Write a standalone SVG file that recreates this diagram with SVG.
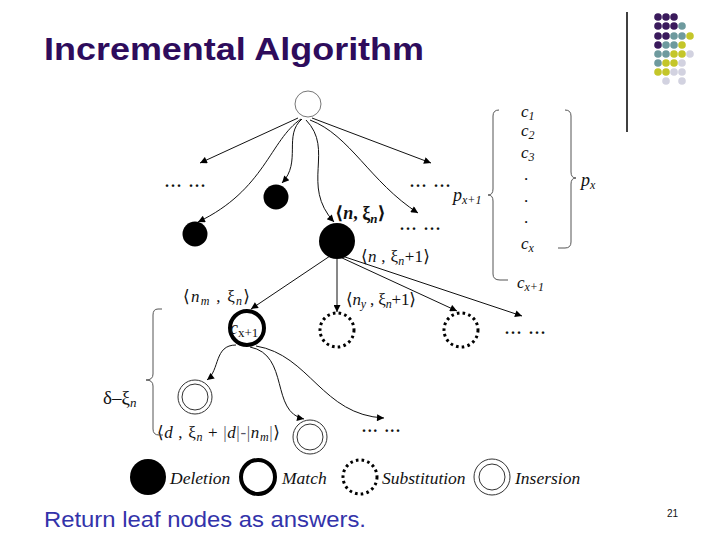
<svg xmlns="http://www.w3.org/2000/svg" width="720" height="540" viewBox="0 0 720 540">
<style>
.m{font-family:"Liberation Serif","DejaVu Serif",serif;fill:#111}
.it{font-style:italic}
.lb{font-size:17px}
.sub{font-size:12px}
.dots{font-family:"Liberation Serif",serif;font-size:16px;font-weight:bold;fill:#111}
.lg{font-family:"Liberation Serif",serif;font-style:italic;font-size:17.5px;fill:#111}
.con{fill:none;stroke:#111;stroke-width:1}
.br{fill:none;stroke:#555;stroke-width:1}
.del{fill:#000}
.mat{fill:#fff;stroke:#000;stroke-width:4}
.sb{fill:#fff;stroke:#000;stroke-width:3;stroke-dasharray:2.6 3.2}
.ins{fill:#fff;stroke:#333;stroke-width:1}
.pu{fill:#3a1a5c}.te{fill:#6e9a9e}.ye{fill:#c4c62a}.lt{fill:#d2d2e0}
</style>
<defs>
<marker id="ah" viewBox="0 0 10 10" refX="10" refY="5" markerWidth="9" markerHeight="7" markerUnits="userSpaceOnUse" orient="auto">
<path d="M0,0 L10,5 L0,10 z" fill="#000"/>
</marker>
</defs>
<rect width="720" height="540" fill="#fff"/>

<g id="title">
<text x="44" y="60" font-family="Liberation Sans, Arial, sans-serif" font-weight="bold" font-size="31" fill="#2e0c5c" textLength="380" lengthAdjust="spacingAndGlyphs">Incremental Algorithm</text>
</g>

<g id="decor">
<line x1="627" y1="12" x2="627" y2="132" stroke="#000" stroke-width="1.5"/>
<circle class="pu" cx="658" cy="17" r="3.8"/><circle class="pu" cx="666" cy="17" r="3.8"/><circle class="pu" cx="674" cy="17" r="3.8"/>
<circle class="pu" cx="658" cy="26" r="3.8"/><circle class="pu" cx="666" cy="26" r="3.8"/><circle class="pu" cx="674" cy="26" r="3.8"/><circle class="te" cx="682" cy="26" r="3.8"/>
<circle class="pu" cx="658" cy="36" r="3.8"/><circle class="pu" cx="666" cy="36" r="3.8"/><circle class="te" cx="674" cy="36" r="3.8"/><circle class="te" cx="682" cy="36" r="3.8"/><circle class="ye" cx="690" cy="36" r="3.8"/>
<circle class="pu" cx="658" cy="45" r="3.8"/><circle class="te" cx="666" cy="45" r="3.8"/><circle class="te" cx="674" cy="45" r="3.8"/><circle class="ye" cx="682" cy="45" r="3.8"/>
<circle class="te" cx="658" cy="54" r="3.8"/><circle class="te" cx="666" cy="54" r="3.8"/><circle class="ye" cx="674" cy="54" r="3.8"/><circle class="ye" cx="682" cy="54" r="3.8"/><circle class="lt" cx="690" cy="54" r="3.8"/>
<circle class="te" cx="658" cy="63" r="3.8"/><circle class="ye" cx="666" cy="63" r="3.8"/><circle class="ye" cx="674" cy="63" r="3.8"/><circle class="lt" cx="682" cy="63" r="3.8"/>
<circle class="ye" cx="658" cy="72" r="3.8"/><circle class="ye" cx="666" cy="72" r="3.8"/><circle class="lt" cx="674" cy="72" r="3.8"/><circle class="lt" cx="682" cy="72" r="3.8"/>
<circle class="lt" cx="666" cy="81" r="3.8"/><circle class="lt" cx="682" cy="81" r="3.8"/>
</g>

<g id="connectors">
<line class="con" x1="298" y1="118" x2="200" y2="163" marker-end="url(#ah)"/>
<path class="con" d="M301,119 C270,140 265,190 198,222" marker-end="url(#ah)"/>
<path class="con" d="M302,119 C283,135 302,162 282,183" marker-end="url(#ah)"/>
<path class="con" d="M306,120 C335,150 300,185 334,222" marker-end="url(#ah)"/>
<line class="con" x1="312" y1="118" x2="431" y2="163" marker-end="url(#ah)"/>
<path class="con" d="M310,120 C350,135 370,182 418,213" marker-end="url(#ah)"/>
<line class="con" x1="330" y1="256" x2="251" y2="309" marker-end="url(#ah)"/>
<line class="con" x1="337" y1="259" x2="337" y2="312" marker-end="url(#ah)"/>
<line class="con" x1="340" y1="257" x2="457" y2="311" marker-end="url(#ah)"/>
<line class="con" x1="342" y1="256" x2="522" y2="316" marker-end="url(#ah)"/>
<path class="con" d="M236,345 C214,345 220,370 207,380" marker-end="url(#ah)"/>
<path class="con" d="M250,347 C290,355 270,412 304,419" marker-end="url(#ah)"/>
<path class="con" d="M256,346 C310,355 322,415 384,418" marker-end="url(#ah)"/>
</g>

<g id="n-root"><circle cx="308" cy="104" r="13" fill="#fff" stroke="#777" stroke-width="1"/></g>
<g id="n-del1"><circle class="del" cx="195" cy="234" r="12.5"/></g>
<g id="n-del2"><circle class="del" cx="276" cy="197" r="12.5"/></g>
<g id="n-del3"><circle class="del" cx="337" cy="241" r="18"/></g>
<g id="n-match">
<circle class="mat" cx="247" cy="328" r="17"/>
<text class="m it" x="230" y="334" font-size="18">c<tspan font-size="13" font-style="normal" dy="3">x+1</tspan></text>
</g>
<g id="n-sub1"><circle class="sb" cx="337" cy="330" r="17"/></g>
<g id="n-sub2"><circle class="sb" cx="461" cy="330" r="17"/></g>
<g id="n-ins1"><circle class="ins" cx="195" cy="397" r="17"/><circle class="ins" cx="195" cy="397" r="13"/></g>
<g id="n-ins2"><circle class="ins" cx="310" cy="437" r="17"/><circle class="ins" cx="310" cy="437" r="13"/></g>

<g id="ellipses">
<text class="dots" x="165" y="187" textLength="40" lengthAdjust="spacing">... ...</text>
<text class="dots" x="410" y="187" textLength="40" lengthAdjust="spacing">... ...</text>
<text class="dots" x="400" y="230" textLength="40" lengthAdjust="spacing">... ...</text>
<text class="dots" x="505" y="334" textLength="40" lengthAdjust="spacing">... ...</text>
<text class="dots" x="362" y="432" textLength="38" lengthAdjust="spacing">... ...</text>
</g>

<g id="labels">
<text class="m" x="335" y="219" font-size="18" font-weight="bold">⟨<tspan class="it">n</tspan>, ξ<tspan class="it" font-size="13" dy="4">n</tspan><tspan dy="-4">⟩</tspan></text>
<text class="m lb" x="361" y="262" textLength="69" lengthAdjust="spacing">⟨<tspan class="it">n</tspan> , ξ<tspan class="it sub" dy="3">n</tspan><tspan dy="-3">+1⟩</tspan></text>
<text class="m lb" x="346" y="305" textLength="70" lengthAdjust="spacing">⟨<tspan class="it">n</tspan><tspan class="it sub" dy="3">y</tspan><tspan dy="-3"> , ξ</tspan><tspan class="it sub" dy="3">n</tspan><tspan dy="-3">+1⟩</tspan></text>
<text class="m lb" x="183" y="302" textLength="67" lengthAdjust="spacing">⟨<tspan class="it">n</tspan><tspan class="it sub" dy="3">m</tspan><tspan dy="-3"> , ξ</tspan><tspan class="it sub" dy="3">n</tspan><tspan dy="-3">⟩</tspan></text>
<text class="m lb" x="157" y="438" textLength="123" lengthAdjust="spacing">⟨<tspan class="it">d</tspan> , ξ<tspan class="it sub" dy="3">n</tspan><tspan dy="-3"> + </tspan><tspan fill="#556">|</tspan><tspan class="it">d</tspan><tspan fill="#556">|-|</tspan><tspan class="it">n</tspan><tspan class="it sub" dy="3">m</tspan><tspan dy="-3" fill="#556">|</tspan>⟩</text>
<text class="m" x="103" y="404" font-size="19">δ–ξ<tspan class="it" font-size="13" dy="3">n</tspan></text>
</g>

<g id="clist">
<path class="br" d="M499,110 Q493,110 493,116 L493,189 Q493,195 488,195 Q493,195 493,201 L493,274 Q493,280 500,280 L508,280"/>
<path class="br" d="M565,110 Q571,110 571,116 L571,172 Q571,178 576,178 Q571,178 571,184 L571,242 Q571,248 565,248 L558,248"/>
<text class="m it lb" x="521" y="117">c<tspan class="sub" dy="3">1</tspan></text>
<text class="m it lb" x="521" y="136">c<tspan class="sub" dy="3">2</tspan></text>
<text class="m it lb" x="521" y="158">c<tspan class="sub" dy="3">3</tspan></text>
<text class="m lb" x="524" y="180">.</text>
<text class="m lb" x="524" y="202">.</text>
<text class="m lb" x="524" y="223">.</text>
<text class="m it lb" x="521" y="249">c<tspan class="sub" dy="3">x</tspan></text>
<text class="m it lb" x="517" y="288">c<tspan class="sub" dy="3">x+1</tspan></text>
<text class="m it" x="581" y="186" font-size="18">p<tspan class="sub" dy="3">x</tspan></text>
<text class="m it" x="453" y="201" font-size="18">p<tspan class="sub" dy="3">x+1</tspan></text>
</g>

<g id="depth">
<path class="br" d="M162,309 L158,309 Q153,309 153,315 L153,374 Q153,380 146,380 Q153,380 153,386 L153,429 Q153,435 159,435 L163,435"/>
</g>

<g id="legend">
<circle class="del" cx="148" cy="477" r="18"/>
<text class="lg" x="170" y="484">Deletion</text>
<circle class="mat" cx="258" cy="477" r="17"/>
<text class="lg" x="282" y="484">Match</text>
<circle class="sb" cx="360" cy="477" r="17"/>
<text class="lg" x="382" y="484">Substitution</text>
<circle class="ins" cx="492" cy="477" r="18"/><circle class="ins" cx="492" cy="477" r="13"/>
<text class="lg" x="515" y="484">Insersion</text>
</g>

<g id="footer">
<text x="44" y="527" font-family="Liberation Sans, Arial, sans-serif" font-size="22" fill="#3333aa" textLength="322" lengthAdjust="spacingAndGlyphs">Return leaf nodes as answers.</text>
<text x="667" y="517" font-family="Liberation Sans, Arial, sans-serif" font-size="10" fill="#111">21</text>
</g>
</svg>
